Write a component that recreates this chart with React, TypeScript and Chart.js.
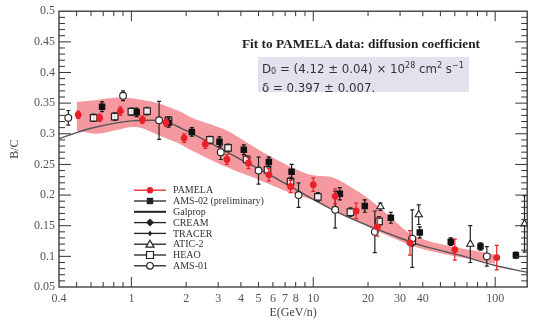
import { useEffect, useRef } from "react";
import { Chart, registerables } from "chart.js";

Chart.register(...registerables);

// ---- B/C ratio data (kinetic energy per nucleon in GeV/n) ----

// GALPROP model curve
const galpropE = [0.4, 0.5, 0.6, 0.8, 1.0, 1.3, 1.6, 2, 3, 4, 5, 7, 10, 14, 20, 30, 40, 60, 100, 150];
const galpropBC = [0.292, 0.302, 0.309, 0.317, 0.321, 0.322, 0.318, 0.305, 0.278, 0.258, 0.243, 0.219, 0.193, 0.170, 0.150, 0.130, 0.117, 0.104, 0.085, 0.074];

// Model uncertainty band
const bandE = [0.5, 0.65, 0.83, 1.0, 1.15, 1.4, 1.8, 2.2, 3.3, 5.0, 7.3, 9.7, 13, 18, 23, 30, 35, 50, 100];
const bandLow = [0.305, 0.300, 0.306, 0.311, 0.309, 0.298, 0.285, 0.271, 0.246, 0.225, 0.205, 0.193, 0.175, 0.155, 0.140, 0.125, 0.117, 0.105, 0.088];
const bandHigh = [0.352, 0.355, 0.359, 0.358, 0.355, 0.350, 0.338, 0.325, 0.306, 0.274, 0.248, 0.233, 0.228, 0.204, 0.180, 0.150, 0.135, 0.120, 0.103];

// PAMELA
const pamelaE = [0.51, 0.67, 0.87, 1.15, 1.55, 1.95, 2.55, 3.35, 4.4, 5.7, 7.5, 10, 13.2, 17.2, 22.5, 34, 60, 102];
const pamelaBC = [0.331, 0.326, 0.337, 0.323, 0.318, 0.293, 0.283, 0.258, 0.252, 0.233, 0.214, 0.217, 0.198, 0.174, 0.148, 0.122, 0.111, 0.098];
const pamelaErr = [0.006, 0.006, 0.007, 0.006, 0.006, 0.007, 0.007, 0.008, 0.009, 0.010, 0.010, 0.011, 0.012, 0.013, 0.015, 0.020, 0.017, 0.020];

// AMS-02 (preliminary)
const ams02E = [0.69, 1.07, 1.6, 2.15, 3.05, 4.15, 5.7, 7.6, 14, 19.2, 26.7, 38.5, 57, 83, 130];
const ams02BC = [0.344, 0.335, 0.318, 0.303, 0.287, 0.274, 0.254, 0.238, 0.202, 0.182, 0.163, 0.139, 0.124, 0.116, 0.102];
const ams02Err = [0.008, 0.007, 0.007, 0.007, 0.008, 0.008, 0.008, 0.012, 0.010, 0.010, 0.009, 0.009, 0.006, 0.006, 0.005];

// HEAO
const heaoE = [0.62, 0.81, 1.0, 1.22, 1.6, 2.7, 3.4, 4.3, 5.6, 7.5, 10.6, 16, 23, 35];
const heaoBC = [0.326, 0.328, 0.336, 0.337, 0.322, 0.290, 0.277, 0.258, 0.241, 0.222, 0.197, 0.172, 0.157, 0.125];
const heaoErr = [0.006, 0.006, 0.006, 0.006, 0.006, 0.006, 0.006, 0.006, 0.006, 0.007, 0.007, 0.007, 0.008, 0.008];

// AMS-01
const ams01E = [0.45, 0.9, 1.42, 3.1, 5.0, 8.3, 13.2, 21.8, 35, 90];
const ams01BC = [0.326, 0.362, 0.322, 0.270, 0.240, 0.200, 0.176, 0.140, 0.129, 0.100];
const ams01Err = [0.012, 0.008, 0.031, 0.012, 0.022, 0.020, 0.030, 0.034, 0.047, 0.016];

// ATIC-2
const aticE = [23.4, 38, 73, 145];
const aticBC = [0.181, 0.168, 0.120, 0.153];
const aticErr = [0.006, 0.016, 0.030, 0.046];

// Axis labelling
const xTickLabels = [0.4, 1, 2, 3, 4, 5, 6, 7, 8, 10, 20, 30, 40, 100];
const xMajor = [1, 10, 100];
const yTickLabels = [0.05, 0.1, 0.15, 0.2, 0.25, 0.3, 0.35, 0.4, 0.45, 0.5];

const RED = "#e8202a";
const INK = "#222";
const SERIF = "'Liberation Serif', 'DejaVu Serif', serif";

const pts = (e: number[], v: number[]) => e.map((x, i) => ({ x, y: v[i] }));

// Vertical error bars with small caps, drawn just before each dataset's markers
const errorBarPlugin = {
  id: "errorBars",
  beforeDatasetDraw(chart: any, args: any) {
    const ds = chart.data.datasets[args.index];
    if (!ds.errors) return;
    const { ctx, chartArea: a } = chart;
    const xs = chart.scales.x;
    const ys = chart.scales.y;
    ctx.save();
    ctx.beginPath();
    ctx.rect(a.left, a.top, a.right - a.left, a.bottom - a.top);
    ctx.clip();
    ctx.strokeStyle = ds.errorColor;
    ctx.lineWidth = 1.2;
    ds.data.forEach((p: any, i: number) => {
      const e = ds.errors[i];
      const px = xs.getPixelForValue(p.x);
      const y0 = ys.getPixelForValue(p.y - e);
      const y1 = ys.getPixelForValue(p.y + e);
      ctx.beginPath();
      ctx.moveTo(px, y0);
      ctx.lineTo(px, y1);
      ctx.moveTo(px - 2, y0);
      ctx.lineTo(px + 2, y0);
      ctx.moveTo(px - 2, y1);
      ctx.lineTo(px + 2, y1);
      ctx.stroke();
    });
    ctx.restore();
  },
};

function drawMarker(ctx: CanvasRenderingContext2D, kind: string, x: number, y: number, color: string) {
  ctx.save();
  ctx.lineWidth = 1.2;
  ctx.strokeStyle = color;
  ctx.fillStyle = color;
  ctx.beginPath();
  switch (kind) {
    case "dot":
      ctx.arc(x, y, 3.2, 0, Math.PI * 2);
      ctx.fill();
      break;
    case "square":
      ctx.rect(x - 3.2, y - 3.2, 6.4, 6.4);
      ctx.fill();
      break;
    case "diamond":
      ctx.moveTo(x, y - 4);
      ctx.lineTo(x + 4, y);
      ctx.lineTo(x, y + 4);
      ctx.lineTo(x - 4, y);
      ctx.closePath();
      ctx.fill();
      break;
    case "smalldiamond":
      ctx.moveTo(x, y - 3);
      ctx.lineTo(x + 2, y);
      ctx.lineTo(x, y + 3);
      ctx.lineTo(x - 2, y);
      ctx.closePath();
      ctx.fill();
      break;
    case "otriangle":
      ctx.moveTo(x, y - 4);
      ctx.lineTo(x + 4, y + 3);
      ctx.lineTo(x - 4, y + 3);
      ctx.closePath();
      ctx.fillStyle = "#fff";
      ctx.fill();
      ctx.stroke();
      break;
    case "osquare":
      ctx.rect(x - 3.5, y - 3.5, 7, 7);
      ctx.fillStyle = "#fff";
      ctx.fill();
      ctx.stroke();
      break;
    case "ocircle":
      ctx.arc(x, y, 3.3, 0, Math.PI * 2);
      ctx.fillStyle = "#fff";
      ctx.fill();
      ctx.stroke();
      break;
  }
  ctx.restore();
}

// Frame, inward tick marks on all four sides, and the in-plot legend
const framePlugin = {
  id: "frameTicksLegend",
  afterDraw(chart: any) {
    const { ctx, chartArea: a } = chart;
    const xs = chart.scales.x;
    const ys = chart.scales.y;
    ctx.save();
    ctx.strokeStyle = "#333";
    ctx.lineWidth = 1.3;
    ctx.strokeRect(a.left, a.top, a.right - a.left, a.bottom - a.top);

    ctx.lineWidth = 1;
    ctx.beginPath();
    // x ticks (log decades)
    for (const d of [0.1, 1, 10, 100]) {
      for (let k = 1; k <= 9; k++) {
        const v = k * d;
        if (v <= xs.min || v > xs.max) continue;
        const len = k === 1 ? 10 : 5;
        const px = xs.getPixelForValue(v);
        ctx.moveTo(px, a.bottom);
        ctx.lineTo(px, a.bottom - len);
        ctx.moveTo(px, a.top);
        ctx.lineTo(px, a.top + len);
      }
    }
    // y ticks every 0.01, major every 0.05
    for (let i = 6; i < 50; i++) {
      const major = i % 5 === 0;
      const len = major ? 12 : 6;
      const py = ys.getPixelForValue(i / 100);
      ctx.moveTo(a.left, py);
      ctx.lineTo(a.left + len, py);
      ctx.moveTo(a.right, py);
      ctx.lineTo(a.right - len, py);
    }
    ctx.stroke();

    // legend
    const entries = chart.data.datasets.filter((d: any) => d.legendKind);
    const lx0 = a.left + 75;
    const lx1 = a.left + 107;
    const tx = a.left + 114;
    let ly = a.top + 179;
    ctx.font = `10px ${SERIF}`;
    ctx.textBaseline = "middle";
    ctx.textAlign = "left";
    for (const d of entries) {
      const col = d.legendColor;
      ctx.strokeStyle = col;
      ctx.lineWidth = d.legendKind === "line" ? 2 : 1.3;
      ctx.beginPath();
      ctx.moveTo(lx0, ly);
      ctx.lineTo(lx1, ly);
      ctx.stroke();
      if (d.legendKind !== "line") drawMarker(ctx, d.legendKind, (lx0 + lx1) / 2, ly, col);
      ctx.fillStyle = "#333";
      ctx.fillText(d.label, tx, ly + 0.5);
      ly += 10.8;
    }
    ctx.restore();
  },
};

function scatterSet(label: string, e: number[], v: number[], err: number[], opts: any) {
  return {
    type: "scatter",
    label,
    data: pts(e, v),
    errors: err,
    showLine: false,
    order: 0,
    ...opts,
  };
}

export default function App() {
  const canvasRef = useRef<HTMLCanvasElement>(null);

  useEffect(() => {
    const canvas = canvasRef.current;
    if (!canvas) return;

    const datasets: any[] = [
      scatterSet("PAMELA", pamelaE, pamelaBC, pamelaErr, {
        pointStyle: "circle",
        pointRadius: 3.4,
        backgroundColor: RED,
        borderColor: RED,
        borderWidth: 0,
        errorColor: RED,
        legendKind: "dot",
        legendColor: RED,
        order: 0,
      }),
      scatterSet("AMS-02 (preliminary)", ams02E, ams02BC, ams02Err, {
        pointStyle: "rect",
        pointRadius: 4.6,
        backgroundColor: "#111",
        borderColor: "#111",
        borderWidth: 0,
        errorColor: "#111",
        legendKind: "square",
        legendColor: INK,
        order: 1,
      }),
      {
        type: "line",
        label: "Galprop",
        data: pts(galpropE, galpropBC),
        borderColor: "#555",
        borderWidth: 1.4,
        pointRadius: 0,
        cubicInterpolationMode: "monotone",
        fill: false,
        order: 4,
        legendKind: "line",
        legendColor: INK,
      },
      {
        type: "scatter",
        label: "CREAM",
        data: [],
        legendKind: "diamond",
        legendColor: INK,
        order: 1,
      },
      {
        type: "scatter",
        label: "TRACER",
        data: [],
        legendKind: "smalldiamond",
        legendColor: INK,
        order: 1,
      },
      scatterSet("ATIC-2", aticE, aticBC, aticErr, {
        pointStyle: "triangle",
        pointRadius: 4.2,
        backgroundColor: "#fff",
        borderColor: "#222",
        borderWidth: 1.1,
        errorColor: "#222",
        legendKind: "otriangle",
        legendColor: INK,
        order: 2,
      }),
      scatterSet("HEAO", heaoE, heaoBC, heaoErr, {
        pointStyle: "rect",
        pointRadius: 4.6,
        backgroundColor: "rgba(255,255,255,0.85)",
        borderColor: "#222",
        borderWidth: 1.2,
        errorColor: "#222",
        legendKind: "osquare",
        legendColor: INK,
        order: 3,
      }),
      scatterSet("AMS-01", ams01E, ams01BC, ams01Err, {
        pointStyle: "circle",
        pointRadius: 3.4,
        backgroundColor: "#fff",
        borderColor: "#222",
        borderWidth: 1.1,
        errorColor: "#222",
        legendKind: "ocircle",
        legendColor: INK,
        order: 2,
      }),
      {
        type: "line",
        label: "band-low",
        data: pts(bandE, bandLow),
        borderWidth: 0,
        pointRadius: 0,
        fill: false,
        tension: 0.3,
        order: 6,
      },
      {
        type: "line",
        label: "band-high",
        data: pts(bandE, bandHigh),
        borderWidth: 0,
        pointRadius: 0,
        tension: 0.3,
        fill: "-1",
        backgroundColor: "#f4999f",
        order: 6,
      },
    ];

    const chart = new Chart(canvas, {
      type: "scatter",
      data: { datasets },
      options: {
        animation: false,
        responsive: false,
        events: [],
        layout: { padding: { top: 10, right: 3, left: 0, bottom: 0 } },
        plugins: {
          legend: { display: false },
          tooltip: { enabled: false },
        },
        scales: {
          x: {
            type: "logarithmic",
            min: 0.4,
            max: 150,
            grid: { display: false, drawTicks: false },
            border: { display: false },
            afterBuildTicks: (s: any) => {
              s.ticks = xTickLabels.map((value) => ({ value, major: xMajor.includes(value) }));
            },
            afterFit: (s: any) => {
              s.height = 34;
            },
            ticks: {
              autoSkip: false,
              maxRotation: 0,
              padding: 5,
              color: "#555",
              font: { family: SERIF, size: 12 },
              callback: (v: any) => String(v),
            },
            title: {
              display: true,
              text: "E(GeV/n)",
              color: "#444",
              font: { family: SERIF, size: 12 },
              padding: { top: 0, bottom: 1 },
            },
          },
          y: {
            type: "linear",
            min: 0.05,
            max: 0.5,
            grid: { display: false, drawTicks: false },
            border: { display: false },
            afterBuildTicks: (s: any) => {
              s.ticks = yTickLabels.map((value) => ({ value }));
            },
            afterFit: (s: any) => {
              s.width = 59;
            },
            ticks: {
              padding: 4,
              color: "#555",
              font: { family: SERIF, size: 12 },
              callback: (v: any) => String(Number(Number(v).toFixed(2))),
            },
            title: {
              display: true,
              text: "B/C",
              color: "#444",
              font: { family: SERIF, size: 12 },
              padding: { top: 8, bottom: 0 },
            },
          },
        },
      },
      plugins: [errorBarPlugin, framePlugin],
    } as any);

    return () => chart.destroy();
  }, []);

  return (
    <div style={{ position: "absolute", left: 0, top: 0, width: 533, height: 321, background: "#fff", overflow: "hidden" }}>
      <canvas ref={canvasRef} width={533} height={321} style={{ display: "block" }} />
      <div
        style={{
          position: "absolute",
          left: 242,
          top: 36,
          whiteSpace: "nowrap",
          fontFamily: SERIF,
          fontWeight: "bold",
          fontSize: 13.3,
          color: "#222",
        }}
      >
        Fit to PAMELA data: diffusion coefficient
      </div>
      <div
        style={{
          position: "absolute",
          left: 258,
          top: 57,
          width: 211,
          height: 35,
          background: "#e2e2ee",
          fontFamily: "'DejaVu Sans', sans-serif",
          fontSize: 11.8,
          color: "#333",
          lineHeight: "17px",
          paddingLeft: 4,
          boxSizing: "border-box",
          whiteSpace: "nowrap",
        }}
      >
        <div>
          D<sub style={{ fontSize: 8, verticalAlign: "-1px" }}>0</sub> = (4.12 ± 0.04) × 10
          <sup style={{ fontSize: 8, verticalAlign: "5px" }}>28</sup> cm
          <sup style={{ fontSize: 8, verticalAlign: "5px" }}>2</sup> s
          <sup style={{ fontSize: 8, verticalAlign: "5px" }}>−1</sup>
        </div>
        <div>δ = 0.397 ± 0.007.</div>
      </div>
    </div>
  );
}
